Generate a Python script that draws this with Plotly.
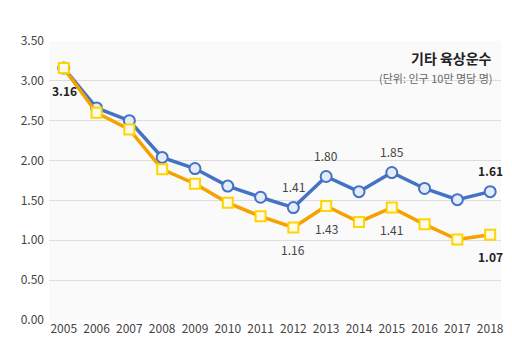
import plotly.graph_objects as go

years = [str(y) for y in range(2005, 2019)]
blue_vals = [3.16, 2.66, 2.50, 2.04, 1.90, 1.68, 1.54, 1.41, 1.80, 1.61, 1.85, 1.65, 1.51, 1.61]
orange_vals = [3.16, 2.60, 2.39, 1.89, 1.71, 1.47, 1.30, 1.16, 1.43, 1.23, 1.41, 1.20, 1.01, 1.07]
y_ticks = [0, 0.5, 1.0, 1.5, 2.0, 2.5, 3.0, 3.5]

# which points get value labels: (index, bold)
blue_labels = [(7, False), (8, False), (10, False), (13, True)]
orange_labels = [(7, False), (8, False), (10, False), (13, True)]

BLUE = "#4472C4"
ORANGE = "#F5A200"
FONT = "Noto Sans CJK KR"

fig = go.Figure()
fig.add_trace(go.Scatter(
    x=years, y=blue_vals, mode="lines+markers",
    line=dict(color=BLUE, width=3.5),
    marker=dict(symbol="circle", size=11, color="#E4ECF8", line=dict(color=BLUE, width=2)),
))
fig.add_trace(go.Scatter(
    x=years, y=orange_vals, mode="lines+markers",
    line=dict(color=ORANGE, width=3.5),
    marker=dict(symbol="square", size=10, color="#FFFBEA", line=dict(color="#FFD400", width=2)),
))

def fmt(v):
    return f"{v:.2f}"

# annotations on a category axis are placed by index
for i, bold in blue_labels:
    t = fmt(blue_vals[i])
    fig.add_annotation(x=i, y=blue_vals[i], text=f"<b>{t}</b>" if bold else t,
                       showarrow=False, yshift=21,
                       font=dict(family=FONT, size=12, color="#222" if bold else "#444"))
for i, bold in orange_labels:
    t = fmt(orange_vals[i])
    fig.add_annotation(x=i, y=orange_vals[i], text=f"<b>{t}</b>" if bold else t,
                       showarrow=False, yshift=-22,
                       font=dict(family=FONT, size=12, color="#222" if bold else "#444"))

# first point label
fig.add_annotation(x=0, y=blue_vals[0], text=f"<b>{fmt(blue_vals[0])}</b>",
                   showarrow=False, xshift=1, yshift=-22,
                   font=dict(family=FONT, size=12, color="#222"))

fig.add_annotation(xref="paper", yref="paper", x=0.985, y=0.94, xanchor="right", yanchor="middle",
                   text="<b>기타 육상운수</b>", showarrow=False,
                   font=dict(family=FONT, size=14, color="#222"))
fig.add_annotation(xref="paper", yref="paper", x=0.987, y=0.867, xanchor="right", yanchor="middle",
                   text="(단위: 인구 10만 명당 명)", showarrow=False,
                   font=dict(family=FONT, size=11, color="#666"))

fig.update_xaxes(type="category", range=[-0.45, 13.33], showgrid=False, showline=False,
                 ticks="", tickfont=dict(family=FONT, size=12, color="#444"))
fig.update_yaxes(range=[0, 3.5], tickvals=y_ticks, tickformat=".2f", showgrid=True,
                 gridcolor="#DDDDDD", gridwidth=1, zeroline=False, showline=False,
                 tickfont=dict(family=FONT, size=12, color="#444"), ticklabelstandoff=4)

# page body adds an 8px margin on each side, so keep the figure inside the window
fig.update_layout(
    width=496, height=337,
    margin=dict(l=41, r=0, t=33, b=25),
    plot_bgcolor="#FAFAFA", paper_bgcolor="white",
    showlegend=False,
)
fig.write_html("out.html")
